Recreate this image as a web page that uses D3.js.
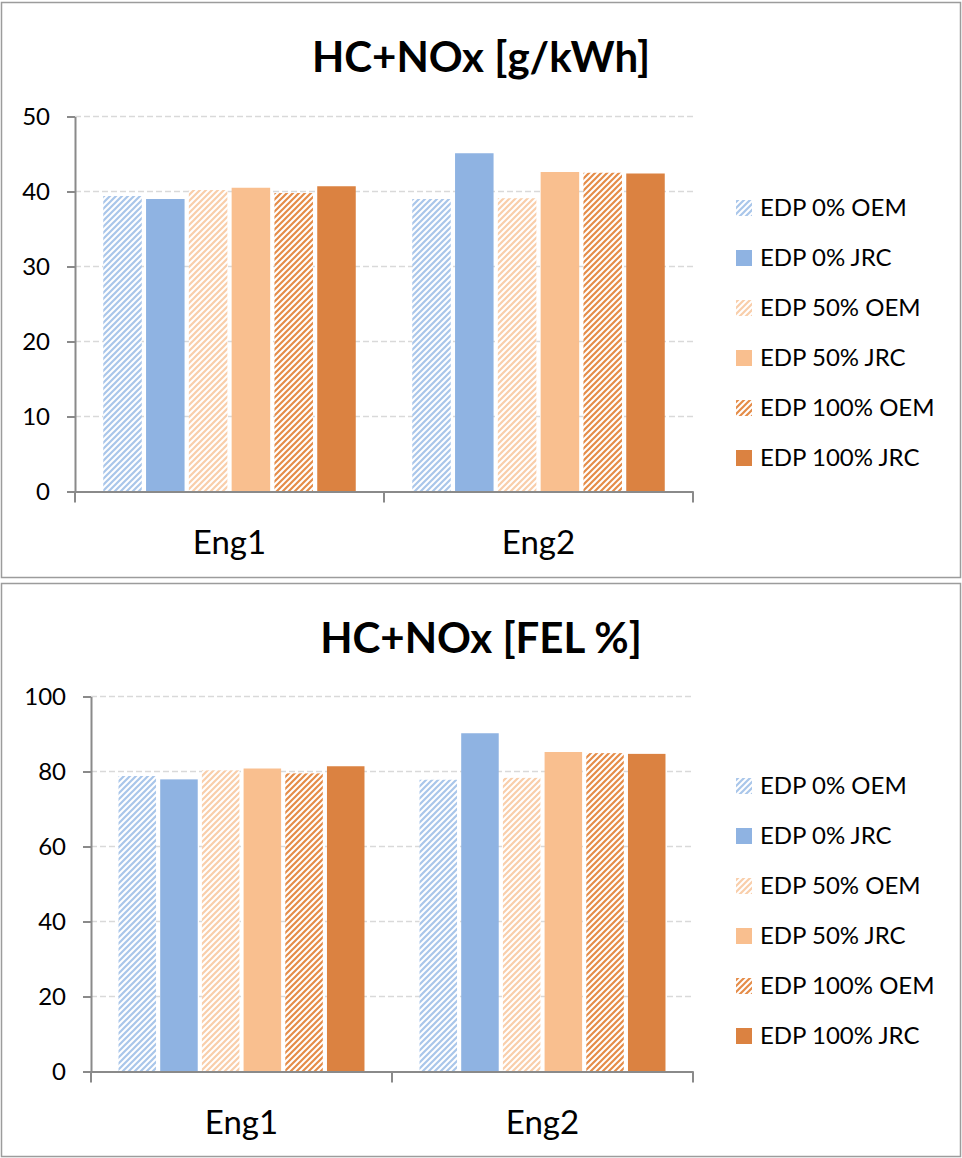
<!DOCTYPE html>
<html>
<head>
<meta charset="utf-8">
<script src="https://cdn.jsdelivr.net/npm/d3@7"></script>
<style>
  html, body { margin: 0; padding: 0; background: #fff; }
  svg { display: block; font-family: Lato, "Noto Sans", sans-serif; }
</style>
</head>
<body>
<svg id="chart" width="962" height="1158"></svg>
<script>
// Engines on the category axis
const categories = ["Eng1", "Eng2"];

// Test series (legend order)
const seriesNames = ["EDP 0% OEM", "EDP 0% JRC", "EDP 50% OEM", "EDP 50% JRC", "EDP 100% OEM", "EDP 100% JRC"];

// HC+NOx emissions in g/kWh, one row per series: [Eng1, Eng2]
const gkwhValues = [
  [39.4, 39.0],
  [39.0, 45.1],
  [40.2, 39.1],
  [40.5, 42.6],
  [39.8, 42.5],
  [40.7, 42.4]
];

// HC+NOx as a share of the family emission limit, one row per series: [Eng1, Eng2]
const felValues = [
  [78.8, 77.8],
  [77.9, 90.2],
  [80.3, 78.3],
  [80.8, 85.2],
  [79.5, 84.9],
  [81.4, 84.7]
];

const gkwhTicks = [0, 10, 20, 30, 40, 50];
const felTicks = [0, 20, 40, 60, 80, 100];

// Series styling: base colour and whether the fill is a diagonal hatch
const seriesStyle = [
  { color: "#8fb3e2", hatch: "#a9c6ea", hatched: true },
  { color: "#8fb3e2", hatched: false },
  { color: "#f9bf8f", hatch: "#f9ceaa", hatched: true },
  { color: "#f9bf8f", hatched: false },
  { color: "#db8241", hatch: "#e58c48", hatched: true },
  { color: "#db8241", hatched: false }
];

const svg = d3.select("#chart");
const defs = svg.append("defs");

// Wide upward diagonal hatch patterns
seriesStyle.forEach((s, i) => {
  if (!s.hatched) return;
  const p = defs.append("pattern")
    .attr("id", "hatch" + i)
    .attr("patternUnits", "userSpaceOnUse")
    .attr("width", 6).attr("height", 6);
  p.append("rect").attr("width", 6).attr("height", 6).attr("fill", "#fff");
  p.append("path")
    .attr("d", "M-1,1 l2,-2 M0,6 l6,-6 M5,7 l2,-2")
    .attr("stroke", s.hatch)
    .attr("stroke-width", 2.2);
});

function fillFor(i) {
  return seriesStyle[i].hatched ? `url(#hatch${i})` : seriesStyle[i].color;
}

function drawPanel(cfg) {
  const g = svg.append("g");

  // Panel frame
  g.append("rect")
    .attr("x", cfg.frame[0]).attr("y", cfg.frame[1])
    .attr("width", cfg.frame[2]).attr("height", cfg.frame[3])
    .attr("fill", "#fff").attr("stroke", "#9c9c9c").attr("stroke-width", 1.5);

  // Title
  g.append("text")
    .attr("x", 481).attr("y", cfg.titleY)
    .attr("text-anchor", "middle")
    .attr("font-weight", "bold").attr("font-size", 42)
    .attr("fill", "#000")
    .text(cfg.title);

  const x = d3.scaleBand().domain(categories).range([cfg.left, cfg.right]).padding(0);
  const xs = d3.scaleBand().domain(d3.range(seriesNames.length))
    .range([0, x.bandwidth()]).paddingInner(0.1).paddingOuter(0.66);
  const y = d3.scaleLinear().domain([0, d3.max(cfg.ticks)]).range([cfg.bottom, cfg.top]);

  // Dashed gridlines
  g.append("g").selectAll("line")
    .data(cfg.ticks.filter(t => t > 0))
    .join("line")
    .attr("x1", cfg.left).attr("x2", cfg.right)
    .attr("y1", d => y(d)).attr("y2", d => y(d))
    .attr("stroke", "#d9d9d9").attr("stroke-width", 1.5)
    .attr("stroke-dasharray", "6,3");

  // Bars
  const rows = [];
  cfg.values.forEach((row, si) => row.forEach((v, ci) => rows.push({ si, ci, v })));
  g.append("g").selectAll("rect")
    .data(rows)
    .join("rect")
    .attr("x", d => x(categories[d.ci]) + xs(d.si))
    .attr("width", xs.bandwidth())
    .attr("y", d => y(d.v))
    .attr("height", d => y(0) - y(d.v))
    .attr("fill", d => fillFor(d.si));

  // Y axis
  const yAxis = g.append("g")
    .attr("transform", `translate(${cfg.left},0)`)
    .call(d3.axisLeft(y).tickValues(cfg.ticks).tickSize(8).tickPadding(17).tickSizeOuter(0));
  yAxis.select(".domain").attr("stroke", "#8a8a8a").attr("stroke-width", 2);
  yAxis.selectAll(".tick line").attr("stroke", "#8a8a8a").attr("stroke-width", 2);
  yAxis.selectAll(".tick text")
    .attr("font-family", "Lato, sans-serif").attr("font-size", 24).attr("fill", "#000");

  // X axis
  const xAxis = g.append("g")
    .attr("transform", `translate(0,${cfg.bottom})`)
    .call(d3.axisBottom(x).tickSize(0).tickPadding(39).tickSizeOuter(0));
  xAxis.select(".domain").attr("stroke", "#8a8a8a").attr("stroke-width", 2);
  xAxis.selectAll(".tick text")
    .attr("font-family", "Lato, sans-serif").attr("font-size", 33).attr("fill", "#000");
  // Category separators below the axis
  const seps = [cfg.left, ...categories.slice(1).map(c => x(c)), cfg.right];
  xAxis.append("g").selectAll("line")
    .data(seps)
    .join("line")
    .attr("x1", d => d).attr("x2", d => d)
    .attr("y1", 0).attr("y2", 11)
    .attr("stroke", "#8a8a8a").attr("stroke-width", 2);

  // Legend
  const lg = g.append("g").attr("transform", `translate(736,${cfg.legendY})`);
  const item = lg.selectAll("g")
    .data(seriesNames)
    .join("g")
    .attr("transform", (d, i) => `translate(0,${i * 50})`);
  item.append("rect")
    .attr("x", 0).attr("y", -8)
    .attr("width", 16).attr("height", 16)
    .attr("fill", (d, i) => fillFor(i));
  item.append("text")
    .attr("x", 24).attr("y", 0).attr("dy", "0.35em")
    .attr("font-size", 24).attr("fill", "#000")
    .text(d => d);
}

drawPanel({
  frame: [1.5, 2.5, 959, 575],
  title: "HC+NOx [g/kWh]",
  titleY: 72,
  left: 75, right: 693, top: 116.5, bottom: 491.5,
  ticks: gkwhTicks,
  values: gkwhValues,
  legendY: 208
});

drawPanel({
  frame: [1.5, 583.5, 959, 573],
  title: "HC+NOx [FEL %]",
  titleY: 653,
  left: 91, right: 693, top: 696.5, bottom: 1071.5,
  ticks: felTicks,
  values: felValues,
  legendY: 786
});
</script>
</body>
</html>
